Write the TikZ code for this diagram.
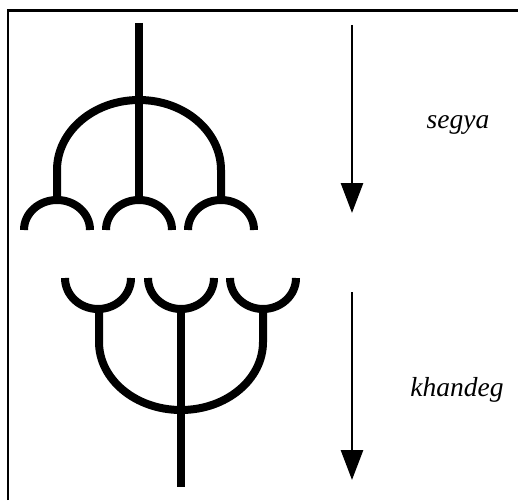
\documentclass[tikz,border=0pt]{standalone}
\usepackage{fontspec}
\setmainfont{Liberation Serif}
\usetikzlibrary{arrows.meta}
\begin{document}
\begin{tikzpicture}[x=1pt,y=-1pt,
  fig/.style={line width=8pt, line cap=butt},
  frame/.style={line width=2.6pt},
  flow/.style={line width=2.8pt, -{Triangle[length=30pt,width=22pt]}},
  lbl/.style={font=\fontsize{27.5}{32}\itshape\selectfont, inner sep=0pt}]
\useasboundingbox (0,0) rectangle (518,500);
\fill[white] (0,0) rectangle (518,500);
% frame (top and left edges)
\coordinate (fa) at (8,500);
\coordinate (fb) at (8,10.5);
\coordinate (fc) at (518,10.5);
\draw[frame] (fa) -- (fb) -- (fc);
% ---------- upper figure (segya) ----------
\coordinate (ts) at (139,23);
\coordinate (tj) at (139,200);
\draw[fig] (ts) -- (tj);
\draw[fig] (57,200) -- (57,170) arc[start angle=180,end angle=0,x radius=82,y radius=-70] -- (221,200);
\foreach \c in {57,139,221}{
  \draw[fig] (\c-33,230) arc[start angle=180,end angle=0,x radius=33,y radius=-30];
}
% ---------- lower figure (khandeg) ----------
\foreach \c in {98,181,263}{
  \draw[fig] (\c-33,278) arc[start angle=180,end angle=360,x radius=33,y radius=-31];
}
\coordinate (bj) at (181,309);
\coordinate (bs) at (181,487);
\draw[fig] (bj) -- (bs);
\draw[fig] (99,309) -- (99,342) arc[start angle=180,end angle=360,x radius=82,y radius=-68] -- (263,309);
% ---------- arrows and labels ----------
\coordinate (a1s) at (352,25);
\coordinate (a1e) at (352,213);
\coordinate (a2s) at (352,292);
\coordinate (a2e) at (352,480);
\draw[flow] (a1s) -- (a1e);
\draw[flow] (a2s) -- (a2e);
\node[lbl, anchor=base] (segya) at (458,128) {segya};
\node[lbl, anchor=base] (khandeg) at (457,396) {khandeg};
\end{tikzpicture}
\end{document}
